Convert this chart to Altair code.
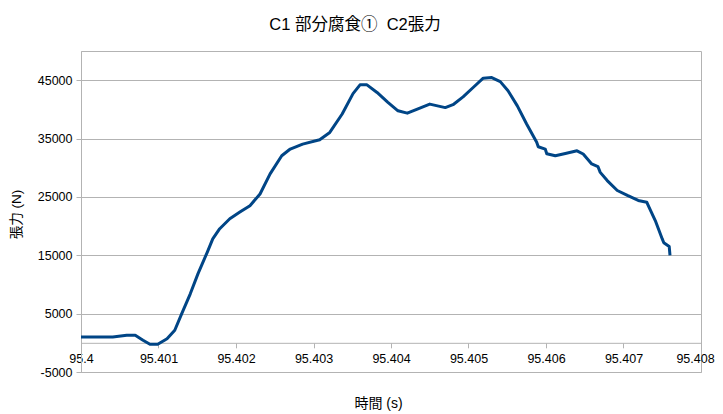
import altair as alt
import pandas as pd

# time (s) and tension (N)
time_s = [
    95.40000, 95.40041, 95.40059, 95.40070, 95.40080, 95.40089, 95.40099,
    95.40111, 95.40121, 95.40130, 95.40141, 95.40151, 95.40163, 95.40170,
    95.40179, 95.40192, 95.40205, 95.40218, 95.40231, 95.40244, 95.40259,
    95.40270, 95.40286, 95.40308, 95.40321, 95.40337, 95.40351, 95.40360,
    95.40369, 95.40382, 95.40396, 95.40409, 95.40421, 95.40434, 95.40450,
    95.40470, 95.40480, 95.40493, 95.40506, 95.40519, 95.40530, 95.40541,
    95.40551, 95.40563, 95.40575, 95.40588, 95.40590, 95.40599, 95.40601,
    95.40612, 95.40625, 95.40640, 95.40648, 95.40659, 95.40667, 95.40670,
    95.40679, 95.40692, 95.40705, 95.40719, 95.40730, 95.40732, 95.40741,
    95.40750, 95.40752, 95.40759, 95.40760,
]
tension_n = [
    1000, 1000, 1300, 1300, 450, -250, -250,
    700, 2150, 5000, 8400, 11850, 15550, 17800,
    19550, 21250, 22400, 23500, 25500, 28950, 32050,
    33200, 34050, 34800, 36050, 39200, 42700, 44200,
    44200, 42900, 41200, 39750, 39350, 40050, 40900,
    40300, 40800, 42150, 43750, 45350, 45450, 44750,
    43200, 40600, 37500, 34350, 33600, 33200, 32400,
    32050, 32450, 32900, 32350, 30650, 30200, 29200,
    27800, 26100, 25250, 24400, 24100, 23500, 20950,
    17800, 17150, 16500, 15000,
]

x_ticks = [95.4, 95.401, 95.402, 95.403, 95.404, 95.405, 95.406, 95.407, 95.408]
y_ticks = [-5000, 5000, 15000, 25000, 35000, 45000]

df = pd.DataFrame({"t": time_s, "f": tension_n})

FONT = "Liberation Sans, Noto Sans CJK JP, sans-serif"
GRID = "#b3b3b3"
W, H = 620, 321
x_offset = -H * 5000 / 55000

chart = (
    alt.Chart(df)
    .mark_line(color="#004586", strokeWidth=3, strokeJoin="round")
    .encode(
        x=alt.X(
            "t:Q",
            scale=alt.Scale(domain=[95.4, 95.408], nice=False, zero=False),
            axis=alt.Axis(
                title="時間 (s)",
                values=x_ticks,
                format="~g",
                grid=False,
                offset=x_offset,
                domainColor=GRID,
                tickColor=GRID,
                tickSize=5,
                labelPadding=5,
                labelFont=FONT,
                labelFontSize=12.5,
                labelColor="#000000",
                labelFlush=False,
                labelOverlap=False,
                labelOffset={"condition": {"test": "datum.value > 95.4075", "value": -6}, "value": 0},
                titleFont=FONT,
                titleFontSize=14,
                titleFontWeight="normal",
                titleColor="#000000",
                titleBaseline="middle",
                titleX=297,
                titleY=61,
            ),
        ),
        y=alt.Y(
            "f:Q",
            scale=alt.Scale(domain=[-5000, 50000], nice=False, zero=False),
            axis=alt.Axis(
                title="張力 (N)",
                values=y_ticks,
                labelExpr="datum.value + ''",
                grid=True,
                gridColor=GRID,
                domainColor=GRID,
                tickColor=GRID,
                tickSize=5,
                labelPadding=4,
                labelFont=FONT,
                labelFontSize=12.5,
                labelColor="#000000",
                labelOverlap=False,
                titleFont=FONT,
                titleFontSize=13.5,
                titleFontWeight="normal",
                titleColor="#000000",
                titleBaseline="middle",
                titleAlign="center",
                titleAngle=270,
                titleX=-65,
                titleY=163,
            ),
        ),
    )
    .properties(
        width=W,
        height=H,
        title=alt.TitleParams(
            "C1 部分腐食①\u00a0 C2張力",
            font=FONT,
            fontSize=16.5,
            fontWeight="normal",
            color="#000000",
            anchor="middle",
            baseline="middle",
            offset=10,
            dx=-36,
        ),
        autosize=alt.AutoSizeParams(type="none"),
        padding={"left": 73, "top": 43, "right": 14, "bottom": 40},
    )
    .configure_view(stroke=GRID, strokeWidth=1)
)

chart.save("out.html", embed_options={"renderer": "svg", "actions": False})
